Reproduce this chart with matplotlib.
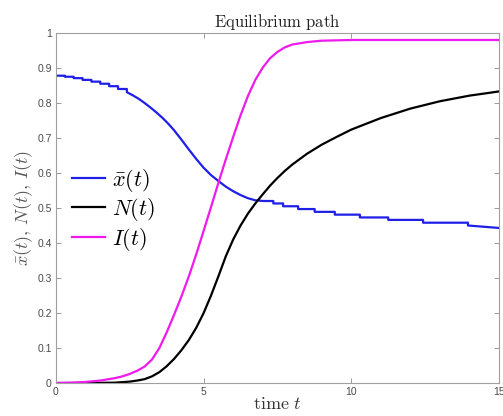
import numpy as np
import matplotlib
matplotlib.use("Agg")
import matplotlib.pyplot as plt

# values
# I(t), magenta
i_t = [0, 0.5, 1, 1.5, 2, 2.25, 2.5, 2.75, 3, 3.25, 3.5, 3.75, 4, 4.25, 4.5, 4.75, 5, 5.25,
       5.5, 5.75, 6, 6.25, 6.5, 6.75, 7, 7.25, 7.5, 7.75, 8, 8.5, 9, 10, 12, 15]
i_v = [0, 0.001, 0.003, 0.007, 0.014, 0.019, 0.026, 0.035, 0.047, 0.067, 0.1, 0.145, 0.195,
       0.248, 0.305, 0.368, 0.435, 0.503, 0.572, 0.639, 0.703, 0.765, 0.82, 0.866, 0.901, 0.928,
       0.946, 0.959, 0.967, 0.974, 0.978, 0.98, 0.98, 0.98]

# N(t), black
n_t = [0, 1, 2, 2.5, 2.75, 3, 3.25, 3.5, 3.75, 4, 4.25, 4.5, 4.75, 5, 5.25, 5.5, 5.75, 6, 6.25,
       6.5, 6.75, 7, 7.25, 7.5, 7.75, 8, 8.5, 9, 9.5, 10, 11, 12, 13, 14, 15]
n_v = [0, 0, 0.001, 0.004, 0.007, 0.011, 0.019, 0.031, 0.048, 0.069, 0.094, 0.123, 0.158, 0.2,
       0.25, 0.305, 0.362, 0.41, 0.45, 0.484, 0.513, 0.539, 0.564, 0.586, 0.606, 0.624, 0.655,
       0.681, 0.703, 0.724, 0.757, 0.784, 0.805, 0.821, 0.833]

# xbar(t), blue: stepped start, smooth middle, stepped tail
xbar_step0_t = [0.3, 0.6, 0.9, 1.2, 1.5, 1.8, 2.1, 2.4]
xbar_step0_v = [0.878, 0.875, 0.871, 0.866, 0.861, 0.855, 0.848, 0.840, 0.831]
xbar_mid_t = [2.4, 2.6, 2.8, 3.0, 3.2, 3.4, 3.6, 3.8, 4.0, 4.25, 4.5, 4.75, 5.0, 5.25, 5.5,
              5.75, 6.0, 6.25, 6.5, 6.75, 7.02]
xbar_mid_v = [0.831, 0.822, 0.812, 0.8, 0.787, 0.773, 0.758, 0.741, 0.722, 0.695, 0.667, 0.64,
              0.615, 0.594, 0.577, 0.561, 0.548, 0.537, 0.528, 0.522, 0.52]
xbar_step1_t = [7.02, 7.36, 7.69, 8.2, 8.76, 9.44, 10.29, 11.25, 12.43, 13.95]
xbar_step1_v = [0.52, 0.513, 0.505, 0.497, 0.489, 0.481, 0.473, 0.466, 0.458, 0.45, 0.443]

x_ticks = [0, 5, 10, 15]
y_ticks = [0, 0.1, 0.2, 0.3, 0.4, 0.5, 0.6, 0.7, 0.8, 0.9, 1]
y_ticklabels = ['0', '0.1', '0.2', '0.3', '0.4', '0.5', '0.6', '0.7', '0.8', '0.9', '1']


def stairs(times, levels, t_start, t_end):
    # staircase path: level k holds until times[k]
    xs, ys = [t_start], [levels[0]]
    for k, tk in enumerate(times):
        xs += [tk, tk]
        ys += [levels[k], levels[k + 1]]
    xs.append(t_end)
    ys.append(levels[-1])
    return xs, ys


s0x, s0y = stairs(xbar_step0_t, xbar_step0_v, 0, xbar_step0_t[-1])
s1x, s1y = stairs(xbar_step1_t[1:], xbar_step1_v, xbar_step1_t[0], 15)
xbar_x = s0x + xbar_mid_t[1:] + s1x[1:]
xbar_y = s0y + xbar_mid_v[1:] + s1y[1:]

plt.rcParams['mathtext.fontset'] = 'cm'
plt.rcParams['font.family'] = ['Liberation Sans', 'DejaVu Sans']

gray = '#8a8a8a'
fig = plt.figure(figsize=(5.03, 4.16), dpi=100)
ax = fig.add_axes([0.1113, 0.0793, 0.8807, 0.8414])

ax.plot(xbar_x, xbar_y, color='#1f1fe8', lw=1.6, label=r'$\bar{x}(t)$')
ax.plot(n_t, n_v, color='black', lw=1.6, label=r'$N(t)$')
ax.plot(i_t, i_v, color='#ee1aee', lw=1.6, label=r'$I(t)$')

ax.set_xlim(0, 15)
ax.set_ylim(0, 1)
ax.set_xticks(x_ticks)
ax.set_yticks(y_ticks)
ax.set_yticklabels(y_ticklabels)
ax.tick_params(direction='in', length=3.5, width=0.6, colors=gray, labelsize=7.5,
               top=True, right=True, pad=3)
for tl in ax.get_xticklabels() + ax.get_yticklabels():
    tl.set_color('#4a4a4a')
for sp in ax.spines.values():
    sp.set_color('#a0a0a0')
    sp.set_linewidth(0.8)

ax.set_title(r'$\mathrm{Equilibrium\ path}$', fontsize=12, color='#222222', pad=4)
ax.set_xlabel(r'$\mathrm{time}\ t$', fontsize=13, color='#333333', labelpad=-1)
ax.set_ylabel(r'$\bar{x}(t),\, N(t),\, I(t)$', fontsize=13, color='#555555', labelpad=2)

ax.legend(loc='center left', bbox_to_anchor=(0.015, 0.495), frameon=False, fontsize=16,
          handlelength=1.5, handletextpad=0.3, labelspacing=0.12, borderaxespad=0)

fig.savefig('out.png', dpi=100)
